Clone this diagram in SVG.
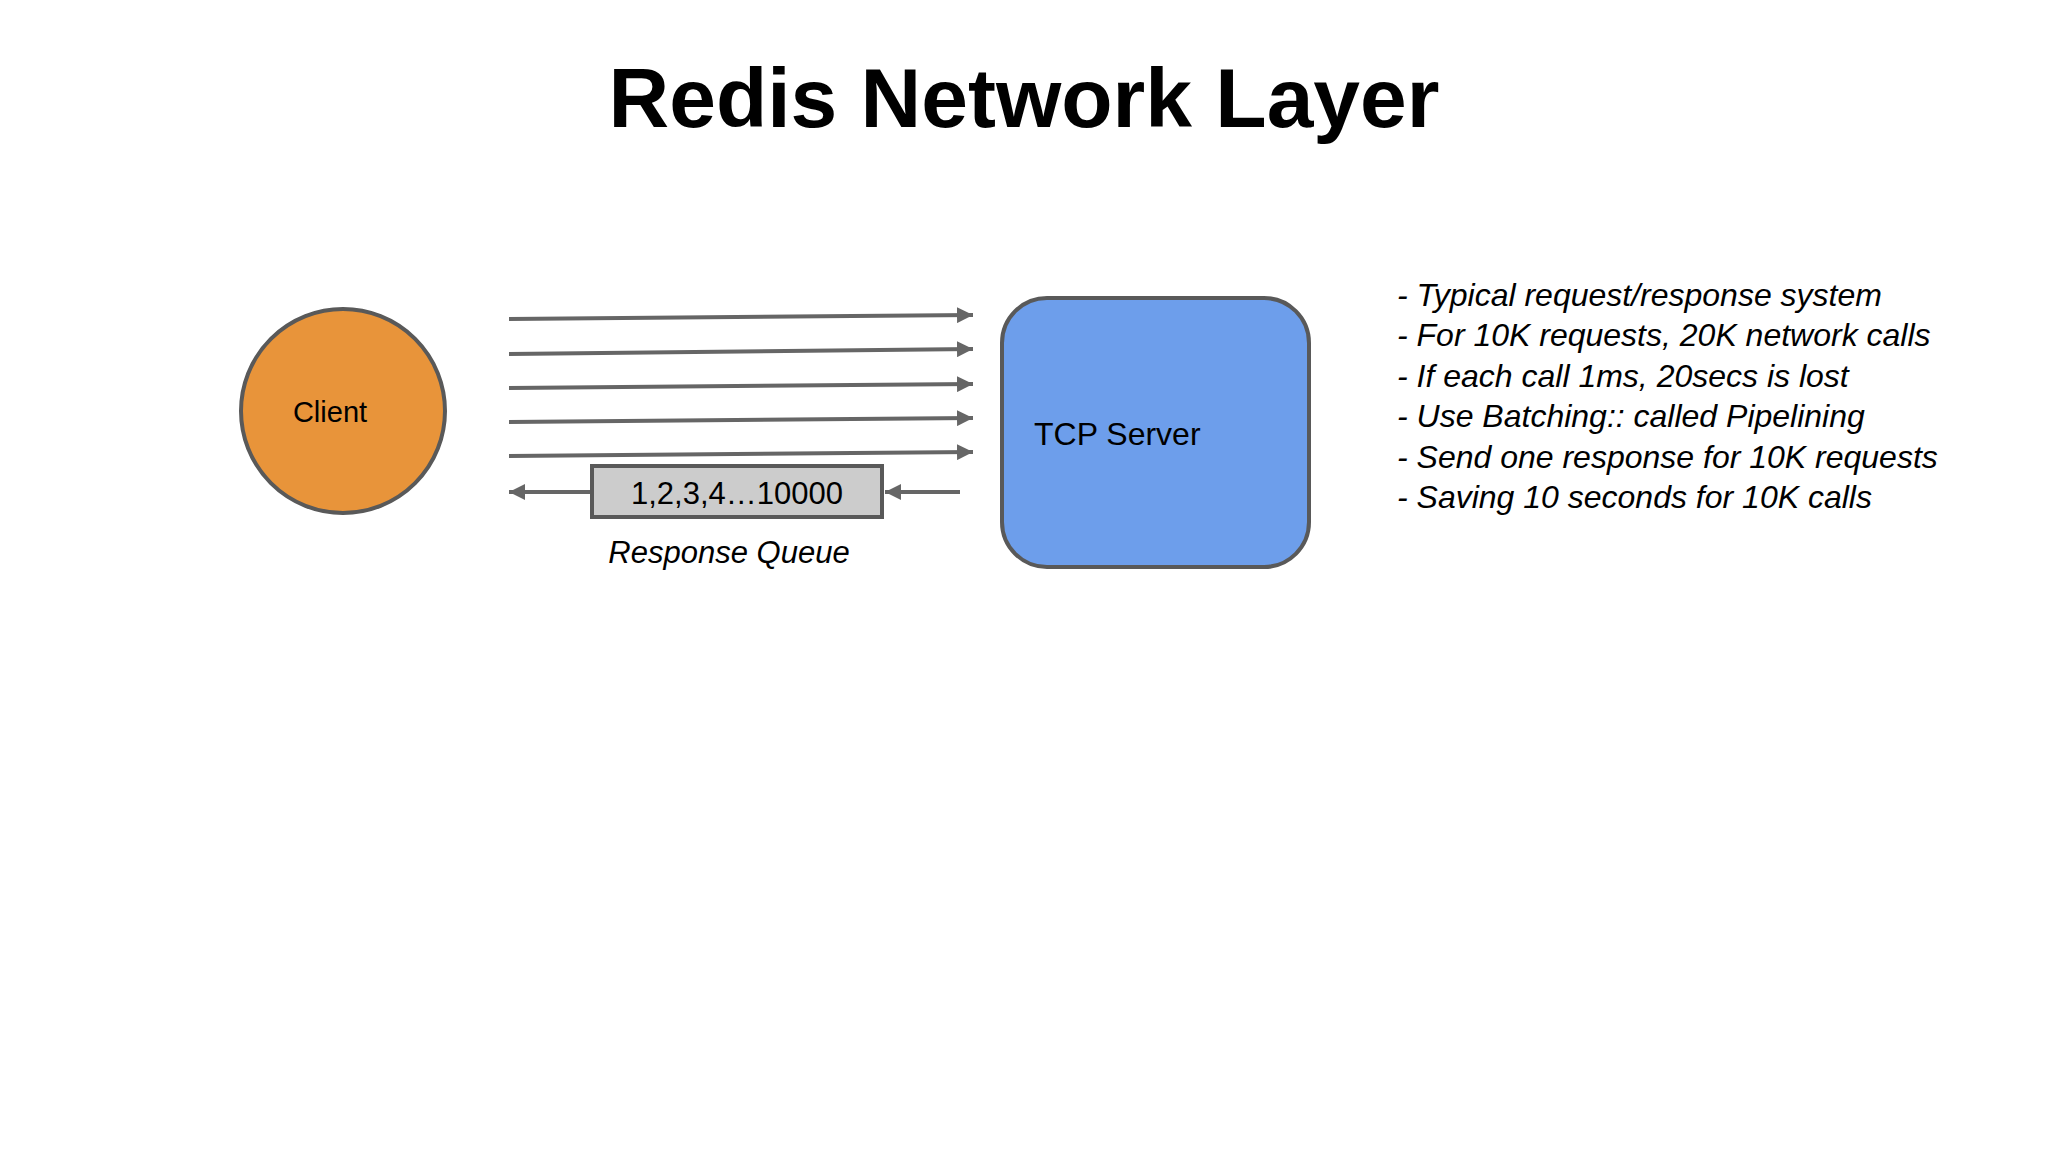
<svg xmlns="http://www.w3.org/2000/svg" width="2048" height="1152" viewBox="0 0 2048 1152">
<defs>
<marker id="ah" viewBox="0 0 10 10" refX="10" refY="5" markerWidth="4" markerHeight="4" markerUnits="strokeWidth" orient="auto"><path d="M0,0 L10,5 L0,10 z" fill="#666"/></marker>
<style>
text{font-family:"Liberation Sans",Arial,sans-serif;fill:#000}
.ln{stroke:#666;stroke-width:4;fill:none;marker-end:url(#ah)}
.b{font-size:32px;font-style:italic}
</style>
</defs>
<rect width="2048" height="1152" fill="#fff"/>
<text x="1024" y="127" font-size="84" font-weight="bold" text-anchor="middle">Redis Network Layer</text>
<g id="connectors">
<line class="ln" x1="509" y1="319" x2="973" y2="315"/>
<line class="ln" x1="509" y1="354" x2="973" y2="349"/>
<line class="ln" x1="509" y1="388" x2="973" y2="384"/>
<line class="ln" x1="509" y1="422" x2="973" y2="418"/>
<line class="ln" x1="509" y1="456" x2="973" y2="452"/>
<line class="ln" x1="960" y1="492" x2="885" y2="492"/>
<line class="ln" x1="592" y1="492" x2="509" y2="492"/>
</g>
<g id="client">
<circle cx="343" cy="411" r="102" fill="#E8943A" stroke="#595959" stroke-width="4"/>
<text x="330" y="422" font-size="29" text-anchor="middle">Client</text>
</g>
<g id="server">
<rect x="1002" y="298" width="307" height="269" rx="45" fill="#6D9EEB" stroke="#595959" stroke-width="4"/>
<text x="1034" y="445" font-size="32">TCP Server</text>
</g>
<g id="queue">
<rect x="592" y="466" width="290" height="51" fill="#cccccc" stroke="#595959" stroke-width="4"/>
<text x="737" y="504" font-size="31" text-anchor="middle">1,2,3,4…10000</text>
<text x="729" y="563" font-size="31" font-style="italic" text-anchor="middle">Response Queue</text>
</g>
<g id="notes">
<text class="b" x="1397" y="306">- Typical request/response system</text>
<text class="b" x="1397" y="346">- For 10K requests, 20K network calls</text>
<text class="b" x="1397" y="387">- If each call 1ms, 20secs is lost</text>
<text class="b" x="1397" y="427">- Use Batching:: called Pipelining</text>
<text class="b" x="1397" y="468">- Send one response for 10K requests</text>
<text class="b" x="1397" y="508">- Saving 10 seconds for 10K calls</text>
</g>
</svg>
